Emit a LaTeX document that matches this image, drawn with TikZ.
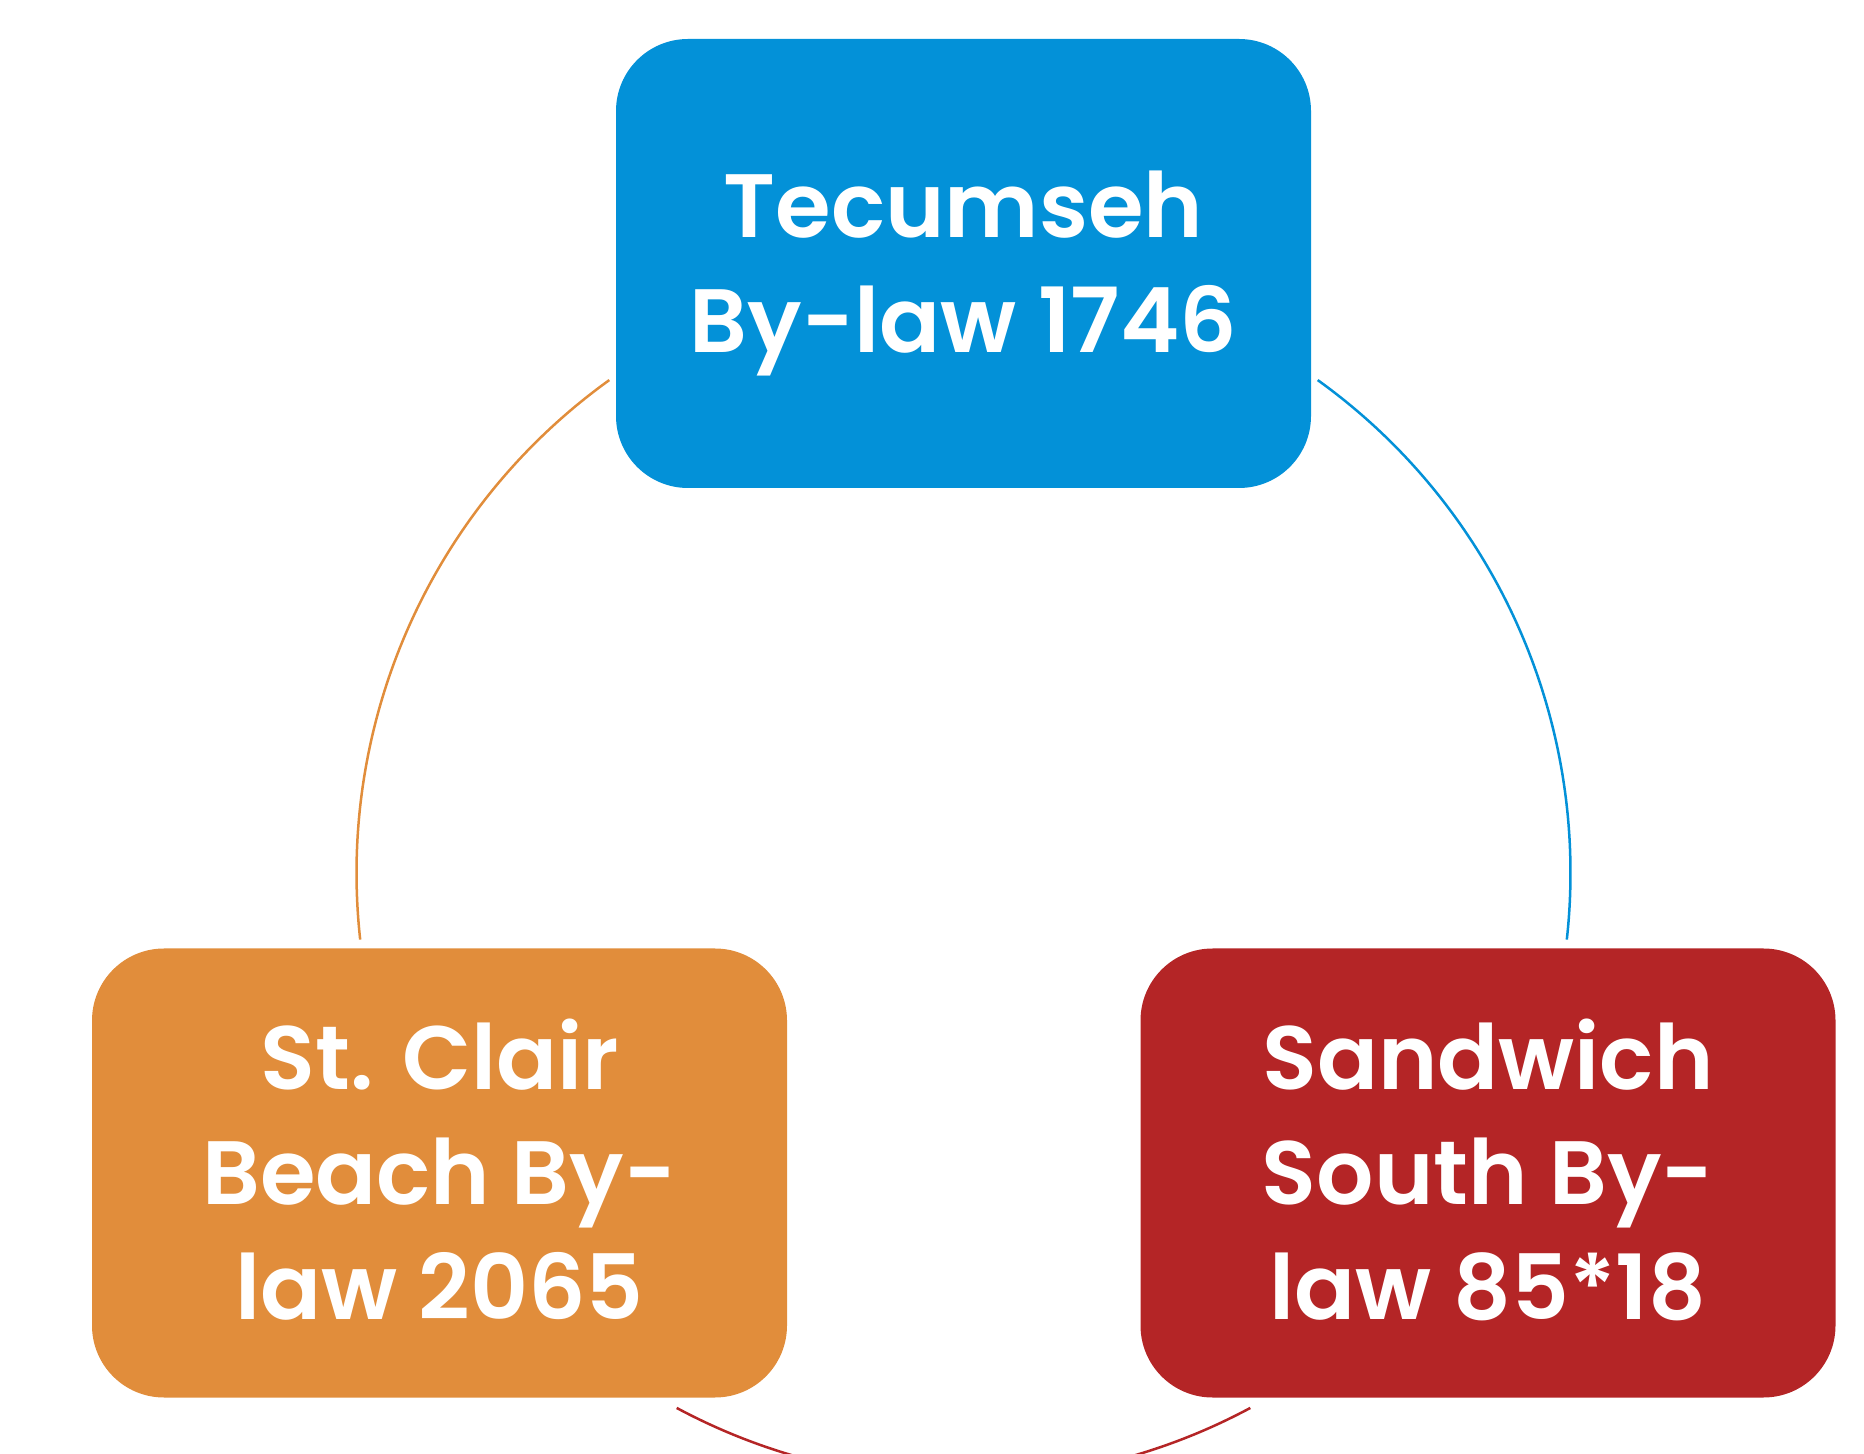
\documentclass[tikz,border=0pt]{standalone}
\usepackage{fontspec}
\setmainfont{Poppins}[BoldFont={Poppins SemiBold}]
\definecolor{tblue}{RGB}{3,145,216}
\definecolor{torange}{RGB}{225,141,59}
\definecolor{tred}{RGB}{180,37,38}
\newcommand\lnstrut{\rule[-12pt]{0pt}{55.5pt}}
\begin{document}
\begin{tikzpicture}[x=0.5pt,y=0.5pt,
  lawbox/.style={rectangle, rounded corners=36pt, minimum width=347.5pt,
    minimum height=224.5pt, inner sep=0pt, align=center, text=white,
    font=\bfseries\fontsize{45pt}{57.5pt}\selectfont},
  ring/.style={line width=1.25pt}]
\useasboundingbox (0,0) rectangle (1864,1453);
\node[lawbox, fill=tblue] (tec) at (963.5,1189.5)
  {\lnstrut Tecumseh\\\lnstrut By-law 1746};
\node[lawbox, fill=torange] (stc) at (439.5,280)
  {\lnstrut St. Clair\\\lnstrut Beach By-\\\lnstrut law 2065};
\node[lawbox, fill=tred] (sws) at (1488,280)
  {\lnstrut Sandwich\\\lnstrut South By-\\\lnstrut law 85*18};
\coordinate (c) at (963.5,580);
\draw[ring, draw=torange] (c) ++(125.7:303.5pt) arc[start angle=125.7, end angle=186.3, radius=303.5pt];
\draw[ring, draw=tblue] (c) ++(54.3:303.5pt) arc[start angle=54.3, end angle=-6.3, radius=303.5pt];
\draw[ring, draw=tred] (c) ++(241.8:303.5pt) arc[start angle=241.8, end angle=298.2, radius=303.5pt];
\end{tikzpicture}
\end{document}
